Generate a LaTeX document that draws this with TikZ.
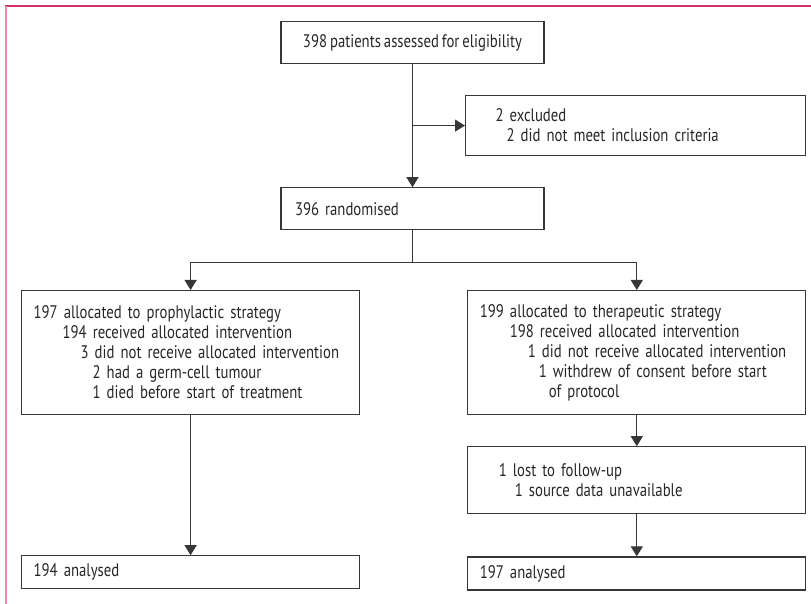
\documentclass[tikz,border=0pt]{standalone}
\usepackage{fontspec}
\setmainfont{PT Sans}[FakeStretch=0.81, WordSpace=0.75]
\usepackage{tikz}
\usetikzlibrary{arrows.meta, positioning}
\definecolor{frameline}{RGB}{214,46,100}
\definecolor{frameside}{RGB}{232,140,168}
\definecolor{inkline}{RGB}{55,55,55}

\begin{document}
\begin{tikzpicture}[
    x=0.5pt, y=-0.5pt,
    every node/.style={font=\fontsize{9.1}{10}\selectfont, text=black!85},
    flowbox/.style={draw=inkline, line width=0.6pt, align=left, inner xsep=6pt,
        text width=157pt, minimum height=#1},
    flowbox/.default=21pt,
    arrow/.style={-{Triangle[width=6pt,length=5pt]}, line width=0.6pt, draw=inkline},
    link/.style={line width=0.6pt, draw=inkline}
]
\useasboundingbox (0,0) rectangle (811,604);

% Frame
\draw[frameline, line width=0.6pt] (5,6) -- (811,6);
\draw[frameside, line width=0.8pt] (6,6) -- (6,604);

% Nodes
\node (elig) [draw=inkline, line width=0.6pt, minimum width=131.5pt, minimum height=21pt,
    anchor=north] at (412.5,21) {398 patients assessed for eligibility};
\node (excl) [flowbox=30pt, inner xsep=15pt, text width=140pt, anchor=north west]
    at (465,95) {2 excluded\\ \hspace*{5.5pt}2 did not meet inclusion criteria};
\node (rand) [flowbox, text width=117.5pt, inner xsep=7pt, below=61.5pt of elig]
    {396 randomised};
\node (proph) [flowbox=62pt, anchor=north west] at (21,290)
    {197 allocated to prophylactic strategy\\
     \hspace*{14.5pt}194 received allocated intervention\\
     \hspace*{23.5pt}3 did not receive allocated intervention\\
     \hspace*{29.5pt}2 had a germ-cell tumour\\
     \hspace*{29.5pt}1 died before start of treatment};
\node (thera) [flowbox=62pt, right=53.5pt of proph]
    {199 allocated to therapeutic strategy\\
     \hspace*{15pt}198 received allocated intervention\\
     \hspace*{24pt}1 did not receive allocated intervention\\
     \hspace*{29.5pt}1 withdrew of consent before start\\
     \hspace*{34.5pt}of protocol};
\node (lost) [flowbox=33.5pt, below=15.5pt of thera]
    {\hspace*{9.5pt}1 lost to follow-up\\
     \hspace*{17.5pt}1 source data unavailable};
\node (anaR) [flowbox=16.5pt, below=21pt of lost] {197 analysed};
\node (anaL) [flowbox=16.5pt, below=70pt of proph] {194 analysed};

% Arrows
\draw[arrow] (elig) -- (rand);
\draw[arrow] (elig.south |- excl.west) -- (excl.west);
\draw[link] (rand.south) -- ++(0,32) coordinate (fork);
\draw[arrow] (fork) -| (proph.north);
\draw[arrow] (fork) -| (thera.north);
\draw[arrow] (proph) -- (anaL);
\draw[arrow] (thera) -- (lost);
\draw[arrow] (lost) -- (anaR);

\end{tikzpicture}
\end{document}
